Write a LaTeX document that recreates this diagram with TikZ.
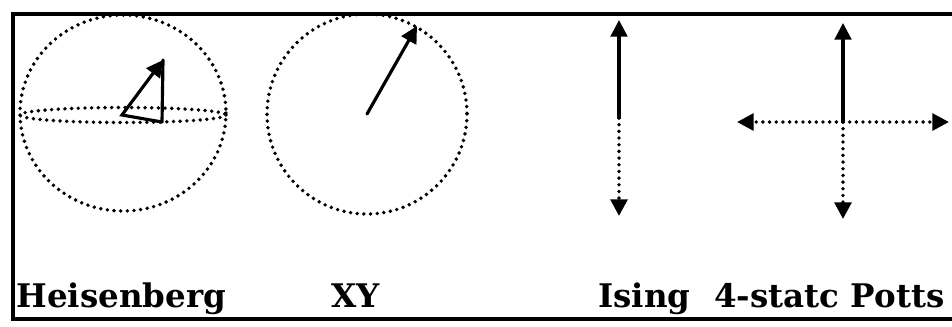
\documentclass[tikz,border=0pt]{standalone}
\usepackage{fontspec}
\setmainfont{DejaVu Serif}
\usetikzlibrary{arrows.meta}

\begin{document}
\begin{tikzpicture}[
    x=0.02cm, y=-0.02cm,
    font=\bfseries\fontsize{18.5}{20}\selectfont,
    spin/.style={line width=1.8pt, line cap=round},
    dots/.style={line width=2.2pt, line cap=round, dash pattern=on 0pt off 3.8pt},
    tip/.style={-{Triangle[length=9.5pt, width=9.5pt]}},
    frame/.style={line width=2pt}
]
    \useasboundingbox (0,0) rectangle (952,326);

    % Coordinates
    \coordinate (hs_c)    at (123,113);
    \coordinate (hs_base) at (122,115);
    \coordinate (hs_foot) at (162,122);
    \coordinate (hs_tip)  at (163,60);

    \coordinate (xy_c)   at (367,114);
    \coordinate (xy_tip) at (417,26);

    \coordinate (is_top) at (619,20);
    \coordinate (is_mid) at (619,118);
    \coordinate (is_bot) at (619,216);

    \coordinate (po_top)   at (843,23);
    \coordinate (po_mid)   at (843,122);
    \coordinate (po_bot)   at (843,219);
    \coordinate (po_left)  at (737,122);
    \coordinate (po_right) at (949,122);

    % Frame (open on the right)
    \draw[frame] (952,14) -- (13,14) -- (13,319) -- (952,319);

    % Heisenberg: sphere + equator + spin
    \draw[dots] (hs_c) ellipse [x radius=103, y radius=98];
    \draw[dots] (123,115) ellipse [x radius=103, y radius=7.5];
    \draw[spin] (hs_foot) -- (hs_tip);
    \draw[spin, tip] (hs_foot) -- (hs_base) -- (hs_tip);

    % XY: circle + spin
    \draw[dots] (xy_c) circle [radius=100];
    \draw[spin, tip] (xy_c) -- (xy_tip);

    % Ising: up / down
    \draw[spin, tip] (is_mid) -- (is_top);
    \draw[dots, tip] (is_mid) -- (is_bot);

    % 4-state Potts
    \draw[spin, tip] (po_mid) -- (po_top);
    \draw[dots, tip] (po_mid) -- (po_bot);
    \draw[dots, tip] (po_mid) -- (po_left);
    \draw[dots, tip] (po_mid) -- (po_right);

    % Labels
    \node[anchor=base west, inner sep=0pt] (lb_hs) at (16,307) {Heisenberg};
    \node[anchor=base west, inner sep=0pt] (lb_xy) at (331,307) {XY};
    \node[anchor=base west, inner sep=0pt] (lb_is) at (598,307) {Ising};
    \node[anchor=base west, inner sep=0pt] (lb_po) at (714,307) {4-statc Potts};

\end{tikzpicture}
\end{document}
